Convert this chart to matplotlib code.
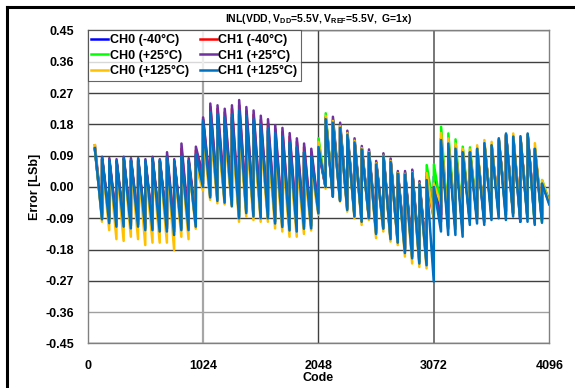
import numpy as np
import matplotlib
matplotlib.use("Agg")
import matplotlib.pyplot as plt
from matplotlib.lines import Line2D

plt.rcParams['font.family'] = ['Liberation Sans', 'DejaVu Sans']
plt.rcParams['font.weight'] = 'bold'
plt.rcParams['mathtext.fontset'] = 'custom'
plt.rcParams['mathtext.rm'] = 'Liberation Sans:bold'
plt.rcParams['mathtext.bf'] = 'Liberation Sans:bold'

# one sawtooth per 64 codes: value at the start of each tooth (peak) and at its end (trough)
tooth_len = 64
tooth_start = [64 * k for k in range(1, 64)]

# CH0 (-40C)
ch0_m40_peak = [0.108, 0.08, 0.074, 0.072, 0.08, 0.074, 0.076, 0.072, 0.078, 0.074, 0.082, 0.072, 0.085, 0.072, 0.09,
                0.185, 0.205, 0.2, 0.19, 0.2, 0.21, 0.195, 0.185, 0.172, 0.162, 0.148, 0.138, 0.126, 0.112, 0.1, 0.088,
                0.12, 0.2, 0.188, 0.172, 0.152, 0.13, 0.11, 0.1, 0.067, 0.09, 0.074, 0.04, 0.038, 0.043, 0.01, 0.04,
                0.03, 0.14, 0.128, 0.112, 0.1, 0.1, 0.108, 0.122, 0.118, 0.135, 0.15, 0.142, 0.14, 0.15, 0.108, 0.01]
ch0_m40_trough = [-0.088, -0.098, -0.108, -0.108, -0.112, -0.108, -0.118, -0.118, -0.12, -0.12, -0.128, -0.118, -0.118, -0.108, 0.01,
                  -0.025, -0.035, -0.04, -0.05, -0.085, -0.07, -0.08, -0.085, -0.085, -0.1, -0.11, -0.12, -0.122, -0.115, -0.112, -0.072,
                  0.0, -0.027, -0.038, -0.063, -0.082, -0.098, -0.088, -0.132, -0.118, -0.148, -0.158, -0.185, -0.2, -0.215, -0.22, -0.07,
                  -0.08, -0.115, -0.115, -0.12, -0.095, -0.09, -0.1, -0.071, -0.075, -0.07, -0.075, -0.1, -0.09, -0.1, -0.095, -0.045]

# CH1 (-40C)
ch1_m40_peak = [0.11, 0.08, 0.076, 0.073, 0.08, 0.076, 0.076, 0.073, 0.08, 0.073, 0.09, 0.073, 0.11, 0.076, 0.105,
                0.195, 0.23, 0.225, 0.215, 0.225, 0.235, 0.218, 0.208, 0.193, 0.183, 0.167, 0.158, 0.145, 0.13, 0.115, 0.1,
                0.11, 0.195, 0.19, 0.175, 0.152, 0.13, 0.11, 0.1, 0.068, 0.09, 0.075, 0.04, 0.04, 0.045, 0.012, 0.02,
                -0.01, 0.13, 0.12, 0.105, 0.095, 0.095, 0.105, 0.12, 0.115, 0.13, 0.145, 0.14, 0.14, 0.145, 0.105, 0.01]
ch1_m40_trough = [-0.08, -0.09, -0.1, -0.1, -0.105, -0.1, -0.11, -0.11, -0.113, -0.113, -0.12, -0.11, -0.105, -0.095, 0.04,
                  -0.01, -0.02, -0.03, -0.04, -0.07, -0.06, -0.07, -0.075, -0.08, -0.09, -0.1, -0.11, -0.112, -0.105, -0.105, -0.065,
                  0.0, -0.02, -0.033, -0.058, -0.078, -0.093, -0.085, -0.125, -0.112, -0.142, -0.152, -0.178, -0.19, -0.205, -0.21, -0.09,
                  -0.09, -0.1, -0.1, -0.105, -0.085, -0.08, -0.085, -0.07, -0.06, -0.07, -0.06, -0.075, -0.075, -0.085, -0.08, -0.04]

# CH0 (+25C)
ch0_25_peak = [0.11, 0.08, 0.075, 0.072, 0.08, 0.075, 0.077, 0.072, 0.078, 0.075, 0.082, 0.072, 0.085, 0.072, 0.08,
               0.18, 0.2, 0.195, 0.185, 0.195, 0.205, 0.19, 0.18, 0.17, 0.16, 0.145, 0.135, 0.125, 0.11, 0.1, 0.09,
               0.14, 0.212, 0.195, 0.18, 0.157, 0.135, 0.113, 0.103, 0.07, 0.094, 0.078, 0.042, 0.042, 0.047, 0.013, 0.063,
               0.065, 0.173, 0.154, 0.137, 0.116, 0.114, 0.11, 0.125, 0.12, 0.135, 0.15, 0.145, 0.14, 0.15, 0.11, 0.02]
ch0_25_trough = [-0.085, -0.095, -0.105, -0.105, -0.11, -0.105, -0.115, -0.115, -0.118, -0.118, -0.125, -0.115, -0.115, -0.105, 0.02,
                 -0.02, -0.03, -0.035, -0.045, -0.08, -0.065, -0.075, -0.08, -0.08, -0.095, -0.105, -0.115, -0.118, -0.11, -0.11, -0.07,
                 0.0, -0.025, -0.035, -0.06, -0.08, -0.095, -0.085, -0.128, -0.115, -0.145, -0.155, -0.18, -0.195, -0.21, -0.215, -0.06,
                 -0.06, -0.11, -0.11, -0.115, -0.09, -0.085, -0.09, -0.08, -0.075, -0.08, -0.075, -0.09, -0.09, -0.105, -0.1, -0.04]

# CH1 (+25C)
ch1_25_peak = [0.12, 0.087, 0.083, 0.08, 0.087, 0.083, 0.083, 0.08, 0.087, 0.08, 0.1, 0.08, 0.125, 0.083, 0.116,
               0.2, 0.24, 0.235, 0.225, 0.235, 0.25, 0.23, 0.22, 0.205, 0.195, 0.178, 0.17, 0.155, 0.14, 0.125, 0.11,
               0.1, 0.2, 0.202, 0.185, 0.162, 0.14, 0.118, 0.108, 0.075, 0.097, 0.082, 0.046, 0.046, 0.05, 0.017, 0.03,
               0.0, 0.14, 0.13, 0.115, 0.105, 0.1, 0.11, 0.125, 0.12, 0.135, 0.15, 0.145, 0.14, 0.15, 0.11, 0.01]
ch1_25_trough = [-0.075, -0.085, -0.095, -0.095, -0.1, -0.095, -0.105, -0.105, -0.108, -0.108, -0.115, -0.105, -0.1, -0.09, 0.03,
                 0.0, -0.01, -0.02, -0.03, -0.06, -0.05, -0.06, -0.065, -0.07, -0.08, -0.09, -0.1, -0.105, -0.1, -0.1, -0.06,
                 0.0, -0.02, -0.03, -0.055, -0.075, -0.09, -0.085, -0.12, -0.11, -0.14, -0.15, -0.175, -0.19, -0.2, -0.21, -0.08,
                 -0.1, -0.12, -0.12, -0.125, -0.095, -0.09, -0.095, -0.08, -0.075, -0.08, -0.075, -0.085, -0.085, -0.09, -0.09, -0.04]

# CH0 (+125C)
ch0_125_peak = [0.12, 0.075, 0.07, 0.065, 0.075, 0.07, 0.07, 0.065, 0.07, 0.068, 0.075, 0.065, 0.075, 0.065, 0.06,
                0.15, 0.17, 0.165, 0.155, 0.165, 0.175, 0.16, 0.15, 0.14, 0.13, 0.115, 0.105, 0.09, 0.075, 0.065, 0.055,
                0.13, 0.205, 0.19, 0.175, 0.155, 0.133, 0.112, 0.1, 0.068, 0.09, 0.075, 0.04, 0.038, 0.042, 0.01, 0.04,
                0.01, 0.155, 0.14, 0.125, 0.11, 0.108, 0.12, 0.135, 0.13, 0.14, 0.15, 0.154, 0.145, 0.15, 0.126, 0.02]
ch0_125_trough = [-0.1, -0.124, -0.15, -0.155, -0.143, -0.15, -0.167, -0.16, -0.16, -0.16, -0.181, -0.143, -0.15, -0.12, -0.01,
                  -0.037, -0.047, -0.05, -0.057, -0.1, -0.085, -0.095, -0.1, -0.1, -0.119, -0.128, -0.143, -0.143, -0.135, -0.125, -0.08,
                  -0.005, -0.023, -0.042, -0.071, -0.09, -0.109, -0.095, -0.147, -0.128, -0.157, -0.167, -0.2, -0.22, -0.23, -0.234, -0.09,
                  -0.05, -0.12, -0.12, -0.125, -0.1, -0.095, -0.1, -0.085, -0.08, -0.085, -0.08, -0.09, -0.09, -0.1, -0.095, -0.045]

# CH1 (+125C)
ch1_125_peak = [0.112, 0.085, 0.078, 0.075, 0.085, 0.078, 0.08, 0.075, 0.082, 0.078, 0.085, 0.075, 0.088, 0.075, 0.095,
                0.19, 0.215, 0.21, 0.2, 0.21, 0.22, 0.205, 0.195, 0.18, 0.17, 0.155, 0.145, 0.13, 0.115, 0.1, 0.088,
                0.115, 0.195, 0.185, 0.17, 0.15, 0.128, 0.108, 0.098, 0.065, 0.088, 0.072, 0.038, 0.036, 0.04, 0.008, 0.02,
                0.0, 0.135, 0.125, 0.11, 0.1, 0.1, 0.11, 0.126, 0.12, 0.14, 0.154, 0.145, 0.146, 0.154, 0.11, 0.01]
ch1_125_trough = [-0.093, -0.104, -0.114, -0.114, -0.119, -0.114, -0.124, -0.124, -0.128, -0.128, -0.138, -0.124, -0.124, -0.114, 0.0,
                  -0.03, -0.04, -0.045, -0.055, -0.09, -0.075, -0.085, -0.09, -0.09, -0.105, -0.115, -0.125, -0.128, -0.12, -0.119, -0.076,
                  0.0, -0.028, -0.04, -0.066, -0.085, -0.1, -0.09, -0.135, -0.12, -0.15, -0.16, -0.19, -0.205, -0.22, -0.225, -0.272,
                  -0.128, -0.138, -0.138, -0.143, -0.109, -0.105, -0.109, -0.095, -0.09, -0.095, -0.085, -0.1, -0.1, -0.109, -0.103, -0.05]

series = [
    ("CH0 (-40°C)", ch0_m40_peak, ch0_m40_trough, '#0000FF'),
    ("CH1 (-40°C)", ch1_m40_peak, ch1_m40_trough, '#FF0000'),
    ("CH0 (+25°C)", ch0_25_peak, ch0_25_trough, '#00FF00'),
    ("CH1 (+25°C)", ch1_25_peak, ch1_25_trough, '#7030A0'),
    ("CH0 (+125°C)", ch0_125_peak, ch0_125_trough, '#FFC000'),
    ("CH1 (+125°C)", ch1_125_peak, ch1_125_trough, '#0070C0'),
]

yticks = [0.45, 0.36, 0.27, 0.18, 0.09, 0.0, -0.09, -0.18, -0.27, -0.36, -0.45]
xticks = [0, 1024, 2048, 3072, 4096]


def saw(peaks, troughs):
    xs, ys = [], []
    for s, p, t in zip(tooth_start, peaks, troughs):
        xs += [s, s + tooth_len - 1]
        ys += [p, t]
    return xs, ys


fig = plt.figure(figsize=(5.75, 3.88), dpi=100)
ax = fig.add_axes([0.1525, 0.1147, 0.8028, 0.8067])

handles = []
for name, pk, tr, col in series:
    xs, ys = saw(pk, tr)
    h, = ax.plot(xs, ys, color=col, lw=1.8, label=name, zorder=3)
    handles.append(h)

ax.set_xlim(0, 4096)
ax.set_ylim(-0.45, 0.45)
ax.set_yticks(yticks)
ax.set_yticklabels(["%.2f" % v for v in yticks])
ax.set_xticks(xticks)
ax.tick_params(axis='y', length=0, labelsize=9, pad=10)
ax.tick_params(axis='x', length=0, labelsize=9, pad=12)
for lab in ax.get_xticklabels() + ax.get_yticklabels():
    lab.set_fontweight('bold')

for v in yticks:
    ax.axhline(v, color='#a0a0a0' if v == -0.36 else '#404040', lw=1.0, zorder=1)
ax.axvline(1024, color='#a6a6a6', lw=1.6, zorder=1)
ax.axvline(2048, color='#404040', lw=1.0, zorder=1)
ax.axvline(3072, color='#606060', lw=1.2, zorder=1)
for sp in ax.spines.values():
    sp.set_color('#808080')
    sp.set_linewidth(1.0)

ax.set_xlabel("Code", fontsize=9, fontweight='bold', labelpad=0)
ax.set_ylabel("Error [LSb]", fontsize=9, fontweight='bold', labelpad=3)
ax.set_title(r"INL(VDD, V$_{\mathbf{DD}}$=5.5V, V$_{\mathbf{REF}}$=5.5V,  G=1x)",
             fontsize=7.5, fontweight='bold', pad=6)

# legend filled row by row: CH0 in the left column, CH1 in the right one
order = [0, 2, 4, 1, 3, 5]
leg = ax.legend([handles[i] for i in order], [series[i][0] for i in order],
                loc='upper left', bbox_to_anchor=(0.0, 1.0), ncol=2, fontsize=9,
                frameon=True, fancybox=False, handlelength=1.35, handletextpad=0.1,
                columnspacing=0.9, labelspacing=0.28, borderpad=0.3, borderaxespad=0.0)
leg.get_frame().set_edgecolor('#404040')
leg.get_frame().set_linewidth(0.8)
for t in leg.get_texts():
    t.set_fontweight('bold')

# black frame around the picture
fig.add_artist(Line2D([7 / 575, 7 / 575], [0, 1 - 7 / 388], color='black', lw=2.2, transform=fig.transFigure))
fig.add_artist(Line2D([7 / 575, 1], [1 - 7 / 388, 1 - 7 / 388], color='black', lw=2.2, transform=fig.transFigure))

fig.savefig("out.png", dpi=100)
